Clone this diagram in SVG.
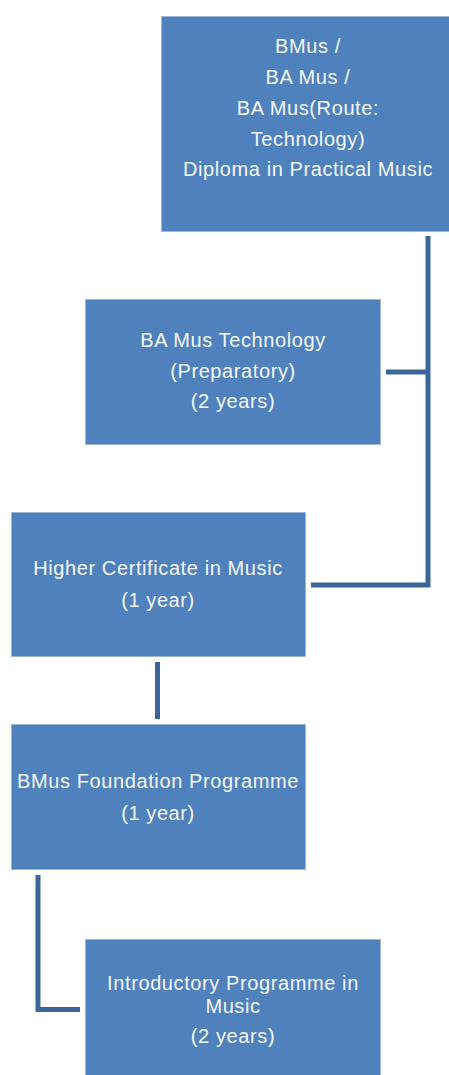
<svg xmlns="http://www.w3.org/2000/svg" width="449" height="1075" viewBox="0 0 449 1075">
<style>
.box{fill:#4F81BD;stroke:#9DB5D6;stroke-width:1}
.lbl{font-family:"Liberation Sans",Arial,sans-serif;font-size:20px;fill:#F4F7FB;text-anchor:middle;letter-spacing:0.6px}
.conn{fill:none;stroke:#3C6699;stroke-width:5}
</style>
<rect width="449" height="1075" fill="#FFFFFF"/>
<g id="connectors">
<path class="conn" d="M428,236 V585 H311"/>
<path class="conn" d="M386,372 H428"/>
<path class="conn" d="M157.5,662 V719"/>
<path class="conn" d="M38,875 V1009.5 H80"/>
</g>
<g id="node-degrees">
<rect class="box" x="161.5" y="16.5" width="294" height="215"/>
<text class="lbl" x="308" y="53">BMus /</text>
<text class="lbl" x="308" y="84">BA Mus /</text>
<text class="lbl" x="308" y="115">BA Mus(Route:</text>
<text class="lbl" x="308" y="146">Technology)</text>
<text class="lbl" x="308" y="176">Diploma in Practical Music</text>
</g>
<g id="node-ba-tech-prep">
<rect class="box" x="85.5" y="299.5" width="295" height="145"/>
<text class="lbl" x="233" y="347">BA Mus Technology</text>
<text class="lbl" x="233" y="378">(Preparatory)</text>
<text class="lbl" x="233" y="408">(2 years)</text>
</g>
<g id="node-higher-cert">
<rect class="box" x="11.5" y="512.5" width="294" height="144"/>
<text class="lbl" x="158" y="575">Higher Certificate in Music</text>
<text class="lbl" x="158" y="607">(1 year)</text>
</g>
<g id="node-foundation">
<rect class="box" x="11.5" y="724.5" width="294" height="145"/>
<text class="lbl" x="158" y="788">BMus Foundation Programme</text>
<text class="lbl" x="158" y="820">(1 year)</text>
</g>
<g id="node-introductory">
<rect class="box" x="85.5" y="939.5" width="295" height="145"/>
<text class="lbl" x="233" y="990">Introductory Programme in</text>
<text class="lbl" x="233" y="1013">Music</text>
<text class="lbl" x="233" y="1043">(2 years)</text>
</g>
</svg>
